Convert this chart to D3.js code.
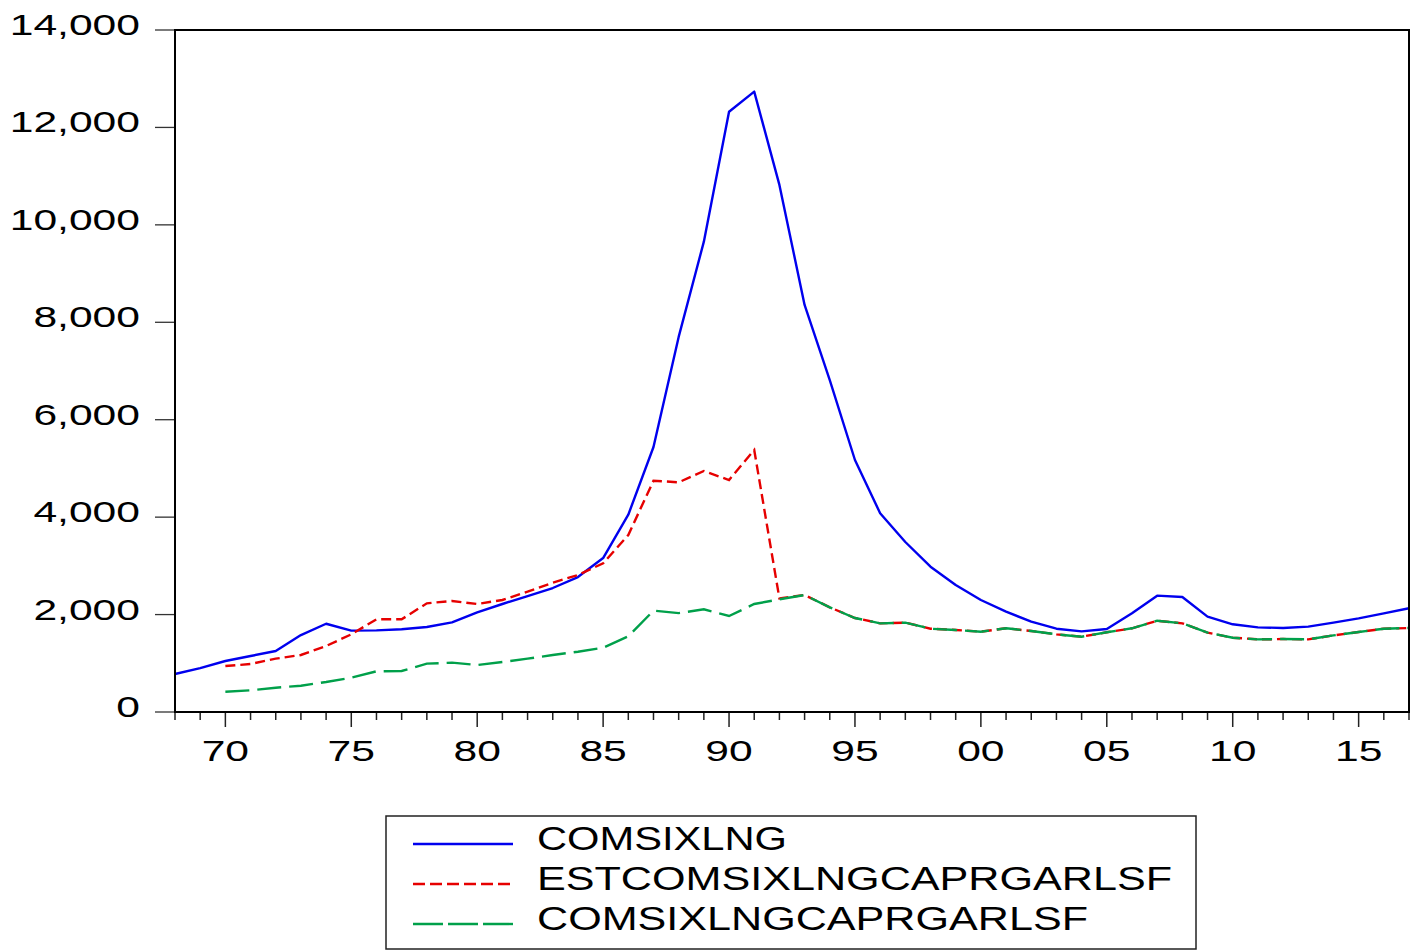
<!DOCTYPE html>
<html>
<head>
<meta charset="utf-8">
<script src="https://cdn.jsdelivr.net/npm/d3@7"></script>
<style>
  html, body { margin: 0; padding: 0; background: #fff; }
  svg { display: block; }
  text { font-family: "Liberation Sans", Arial, sans-serif; fill: #000; }
</style>
</head>
<body>
<svg id="chart" width="1418" height="950"></svg>
<script>
// ---- data ----
const years = d3.range(1968, 2018);
const comsixlng = [
  780, 900, 1047, 1150, 1252, 1580, 1812, 1670, 1675, 1700,
  1745, 1840, 2045, 2217, 2380, 2545, 2770, 3160, 4050, 5440,
  7700, 9655, 12323, 12735, 10820, 8355, 6815, 5173, 4080, 3490,
  2983, 2607, 2299, 2060, 1854, 1710, 1656, 1704, 2026, 2388,
  2361, 1957, 1800, 1738, 1724, 1752, 1834, 1923, 2026, 2129
];
// 1970-2017
const estcomsixlngcaprgarlsf = [
  944, 985, 1095, 1170, 1355, 1594, 1903, 1903, 2231, 2279,
  2217, 2299, 2470, 2655, 2812, 3052, 3633, 4748, 4715, 4947,
  4762, 5378, 2330, 2402, 2149, 1930, 1820, 1834, 1710, 1683,
  1649, 1718, 1663, 1594, 1546, 1636, 1718, 1874, 1820, 1629,
  1525, 1491, 1498, 1491, 1573, 1642, 1710, 1724
];
const comsixlngcaprgarlsf = [
  417, 445, 499, 540, 616, 705, 835, 842, 992, 1013,
  965, 1026, 1095, 1170, 1238, 1320, 1555, 2080, 2030, 2108,
  1971, 2217, 2313, 2402, 2149, 1930, 1820, 1834, 1710, 1683,
  1649, 1718, 1663, 1594, 1546, 1636, 1718, 1874, 1820, 1629,
  1525, 1491, 1498, 1491, 1573, 1642, 1710, 1724
];
const yTicks = [0, 2000, 4000, 6000, 8000, 10000, 12000, 14000];
const xMajorTicks = [1970, 1975, 1980, 1985, 1990, 1995, 2000, 2005, 2010, 2015];
const seriesNames = ["COMSIXLNG", "ESTCOMSIXLNGCAPRGARLSF", "COMSIXLNGCAPRGARLSF"];

// ---- layout ----
const svg = d3.select("#chart");
const L = 175, R = 1409, T = 30, B = 712;
const x = d3.scaleLinear().domain([1968, 2017]).range([L, R]);
const y = d3.scaleLinear().domain([0, 14000]).range([B, T]);
const SX = 1.42; // horizontal stretch of glyphs

const blue = "#0000ee", red = "#e60000", green = "#00a04a";

// y tick marks + labels
yTicks.forEach(v => {
  svg.append("line").attr("x1", L - 20).attr("x2", L).attr("y1", y(v)).attr("y2", y(v))
    .attr("stroke", "#333").attr("stroke-width", 1.3);
  svg.append("text").attr("text-anchor", "end")
    .attr("transform", `translate(140,${y(v) + 5}) scale(${SX},1)`)
    .attr("font-size", 30).text(d3.format(",")(v));
});

// x ticks
years.forEach(yr => {
  const major = xMajorTicks.includes(yr);
  svg.append("line").attr("x1", x(yr)).attr("x2", x(yr)).attr("y1", B).attr("y2", B + (major ? 15 : 8))
    .attr("stroke", "#222").attr("stroke-width", 1.5);
});
xMajorTicks.forEach(yr => {
  svg.append("text").attr("text-anchor", "middle")
    .attr("transform", `translate(${x(yr)},761) scale(${SX},1)`)
    .attr("font-size", 30).text(String(yr % 100).padStart(2, "0"));
});

// lines
const line = d3.line().x(d => x(d[0])).y(d => y(d[1]));
const blueData = years.map((yr, i) => [yr, comsixlng[i]]);
const redData = estcomsixlngcaprgarlsf.map((v, i) => [1970 + i, v]);
const greenData = comsixlngcaprgarlsf.map((v, i) => [1970 + i, v]);

svg.append("path").datum(blueData).attr("d", line).attr("fill", "none")
  .attr("stroke", blue).attr("stroke-width", 2.4).attr("stroke-linejoin", "round");
svg.append("path").datum(redData).attr("d", line).attr("fill", "none")
  .attr("stroke", red).attr("stroke-width", 2.4).attr("stroke-dasharray", "10,5");
svg.append("path").datum(greenData).attr("d", line).attr("fill", "none")
  .attr("stroke", green).attr("stroke-width", 2.4).attr("stroke-dasharray", "24,8");

// frame
svg.append("rect").attr("x", L).attr("y", T).attr("width", R - L).attr("height", B - T)
  .attr("fill", "none").attr("stroke", "#000").attr("stroke-width", 2);

// legend
svg.append("rect").attr("x", 386).attr("y", 816).attr("width", 810).attr("height", 133)
  .attr("fill", "#fff").attr("stroke", "#222").attr("stroke-width", 1.5);
const legendStyles = [
  { color: blue, dash: null },
  { color: red, dash: "12,5" },
  { color: green, dash: "30,5" }
];
const legendWidths = [250, 635, 551];
seriesNames.forEach((name, i) => {
  const ly = 844 + i * 40;
  const ln = svg.append("line").attr("x1", 413).attr("x2", 513).attr("y1", ly).attr("y2", ly)
    .attr("stroke", legendStyles[i].color).attr("stroke-width", 2.4);
  if (legendStyles[i].dash) ln.attr("stroke-dasharray", legendStyles[i].dash);
  svg.append("text").attr("x", 537).attr("y", ly + 6 + 0).attr("font-size", 32.5)
    .attr("textLength", legendWidths[i]).attr("lengthAdjust", "spacingAndGlyphs")
    .text(name);
});
</script>
</body>
</html>
